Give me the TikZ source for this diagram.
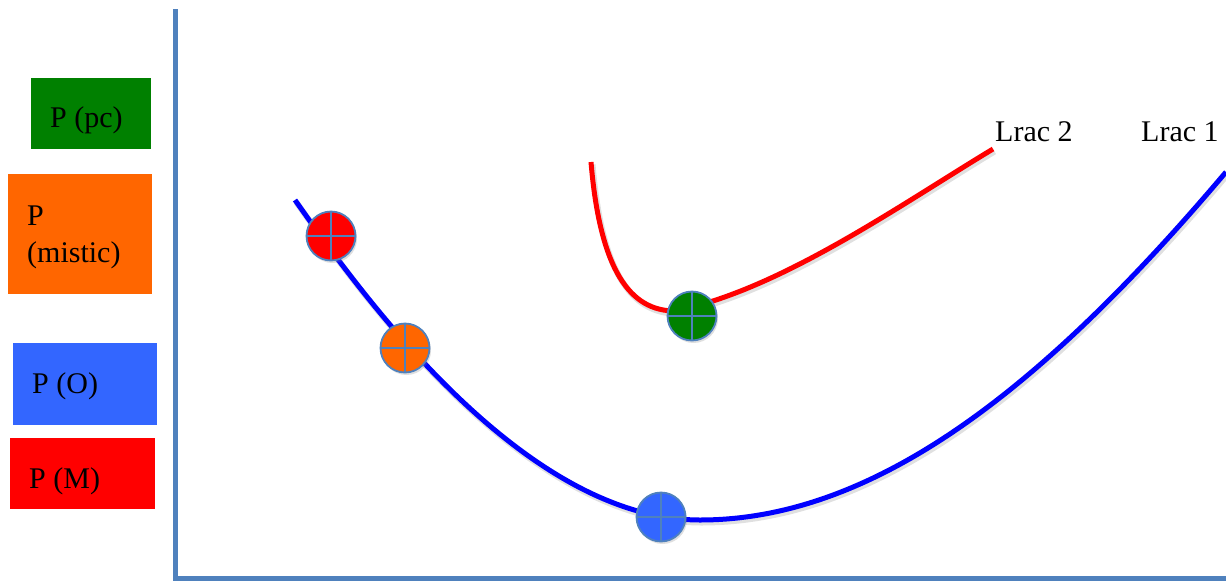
\documentclass[tikz,border=0pt]{standalone}
\usepackage{fontspec}
\setmainfont{Liberation Serif}
\usetikzlibrary{shadows}
\definecolor{axisblue}{HTML}{4F81BD}
\definecolor{pgreen}{HTML}{008000}
\definecolor{porange}{HTML}{FF6600}
\definecolor{pblue}{HTML}{3366FF}
\definecolor{pred}{HTML}{FF0000}
\definecolor{curveblue}{HTML}{0000FF}
\tikzset{
  legend/.style={fill=#1, draw=none, anchor=north west, inner sep=0pt},
  axis/.style={draw=axisblue, line width=5pt},
  curve/.style={draw=#1, line width=5pt,
    preaction={draw=black, opacity=0.12, line width=6pt, transform canvas={xshift=1.5pt, yshift=-2.5pt}}},
  marker/.style={circle, fill=#1, draw=axisblue, line width=1.8pt, minimum size=49pt,
    inner sep=0pt, drop shadow={shadow xshift=1.5pt, shadow yshift=-2.5pt, opacity=0.25}},
  label/.style={font=\fontsize{30}{37}\selectfont, text=black, inner sep=0pt},
}
\newcommand{\crossmark}[1]{%
  \draw[axisblue, line width=1.8pt] (#1.north) -- (#1.south) (#1.west) -- (#1.east);}
\begin{document}
\begin{tikzpicture}[x=1pt, y=-1pt]
  \useasboundingbox (0,0) rectangle (1226,584);

  % legend boxes
  \node[legend=pgreen, minimum width=120pt, minimum height=71pt] (lpc) at (31,78) {};
  \node[label, anchor=base west] (tpc) at (50,127) {P (pc)};
  \node[legend=porange, minimum width=144pt, minimum height=120pt] (lmi) at (8,174) {};
  \node[label, anchor=base west, align=left] (tmi) at (27,262) {P\\(mistic)};
  \node[legend=pblue, minimum width=144pt, minimum height=82pt] (lo) at (13,343) {};
  \node[label, anchor=base west] (to) at (32,393) {P (O)};
  \node[legend=pred, minimum width=145pt, minimum height=71pt] (lm) at (10,438) {};
  \node[label, anchor=base west] (tm) at (29,488) {P (M)};

  % axes
  \coordinate (top) at (175,9);
  \coordinate (origin) at (175,578);
  \coordinate (right) at (1226,578);
  \draw[axis] (top) -- (origin) -- (right);

  % long-run average cost curves
  \coordinate (b0) at (295,200);
  \coordinate (bmin) at (700,520);
  \coordinate (b1) at (1226,172);
  \draw[curve=curveblue] (b0) .. controls (355,285) and (520,520) .. (bmin)
        .. controls (880,520) and (1050,380) .. (b1);

  \coordinate (r0) at (591,162);
  \coordinate (rmin) at (675,311);
  \coordinate (r1) at (993,149);
  \draw[curve=pred] (r0) .. controls (600,270) and (630,311) .. (rmin)
        .. controls (780,290) and (900,205) .. (r1);

  \node[label, anchor=base west] (l2) at (995,141) {Lrac 2};
  \node[label, anchor=base west] (l1) at (1141,141) {Lrac 1};

  % points on the curves
  \node[marker=pred] (pm) at (331,236) {};
  \crossmark{pm}
  \node[marker=porange] (pmi) at (405,348) {};
  \crossmark{pmi}
  \node[marker=pgreen] (ppc) at (692,316) {};
  \crossmark{ppc}
  \node[marker=pblue] (po) at (661,517) {};
  \crossmark{po}
\end{tikzpicture}
\end{document}
